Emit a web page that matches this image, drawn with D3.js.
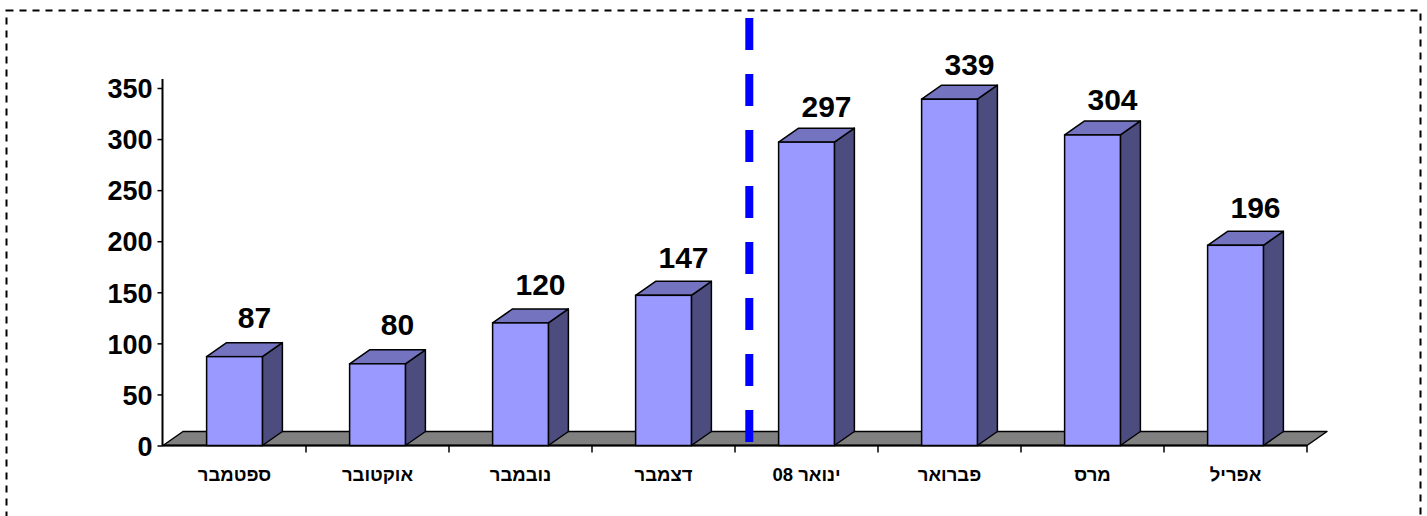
<!DOCTYPE html>
<html>
<head>
<meta charset="utf-8">
<script src="https://cdn.jsdelivr.net/npm/d3@7/dist/d3.min.js"></script>
<style>
  html, body { margin: 0; padding: 0; background: #fff; }
  svg { display: block; font-family: "Liberation Sans", Arial, sans-serif; }
</style>
</head>
<body>
<svg id="chart" width="1427" height="516"></svg>
<script>
const categories = ["ספטמבר", "אוקטובר", "נובמבר", "דצמבר", "ינואר 08", "פברואר", "מרס", "אפריל"];
const values = [87, 80, 120, 147, 297, 339, 304, 196];
const yTicks = [0, 50, 100, 150, 200, 250, 300, 350];
const dividerAfter = "דצמבר";

const svg = d3.select("#chart");
const left = 163, right = 1307, base = 445.5, topY = 88;
const dx = 20, dy = 14;

const x = d3.scaleBand().domain(categories).range([left, right]).paddingInner(0).paddingOuter(0);
const y = d3.scaleLinear().domain([0, 350]).range([base, topY]);
// value labels sit on a slightly flatter projection (3D perspective of the label plane)
const yLabel = d3.scaleLinear().domain([0, 350]).range([415, 64]);
const barW = x.step() * 0.39;
const off = (x.step() - barW) / 2;

// outer dashed frame
svg.append("rect")
  .attr("x", 6.5).attr("y", 10.5).attr("width", 1414).attr("height", 530)
  .attr("fill", "none").attr("stroke", "#000").attr("stroke-width", 2)
  .attr("stroke-dasharray", "7,6");

// floor
const y0 = y(0);
svg.append("polygon")
  .attr("points", [[left, y0], [left + dx, y0 - dy], [right + dx, y0 - dy], [right, y0]].map(p => p.join(",")).join(" "))
  .attr("fill", "#808080").attr("stroke", "#000").attr("stroke-width", 1.5).attr("stroke-linejoin", "round");

// y axis
const yAxis = d3.axisLeft(y).tickValues(yTicks).tickSize(5).tickPadding(5).tickFormat(d3.format("d"));
const gy = svg.append("g").attr("transform", `translate(${left - 0.5},0)`).call(yAxis);
gy.select(".domain").remove();
gy.append("line").attr("x1", 0).attr("x2", 0).attr("y1", y(350) - 9).attr("y2", y0)
  .attr("stroke", "#000").attr("stroke-width", 2);
gy.selectAll(".tick line").attr("stroke", "#000").attr("stroke-width", 1.5);
gy.selectAll(".tick text")
  .attr("fill", "#000").style("font-size", "27px").style("font-weight", "bold")
  .style("font-family", "'Liberation Sans', Arial, sans-serif").attr("dy", "0.36em");

// x axis
const xAxis = d3.axisBottom(x).tickSize(0).tickPadding(19);
const gx = svg.append("g").attr("transform", `translate(0,${y0})`).call(xAxis);
gx.select(".domain").remove();
gx.append("line").attr("x1", left - 1).attr("x2", right).attr("y1", 0).attr("y2", 0)
  .attr("stroke", "#000").attr("stroke-width", 2);
gx.selectAll(".bound").data(categories.map(c => x(c) + x.step()))
  .enter().append("line").attr("class", "bound")
  .attr("x1", d => d).attr("x2", d => d).attr("y1", 0).attr("y2", 7)
  .attr("stroke", "#000").attr("stroke-width", 1.5);
gx.selectAll(".tick text")
  .attr("fill", "#000").style("font-size", "18.5px").style("font-weight", "bold")
  .style("font-family", "'Liberation Sans', Arial, sans-serif")
  .attr("direction", "rtl").attr("text-anchor", "middle").attr("dy", "0.9em");

// bars
const bars = svg.append("g").selectAll("g.bar").data(categories.map((c, i) => ({c, v: values[i]})))
  .enter().append("g").attr("class", "bar");
const pts = a => a.map(p => p.join(",")).join(" ");
bars.each(function(d) {
  const g = d3.select(this);
  const x0 = x(d.c) + off, x1 = x0 + barW, yt = y(d.v);
  g.append("polygon").attr("points", pts([[x1, yt], [x1 + dx, yt - dy], [x1 + dx, y0 - dy], [x1, y0]]))
    .attr("fill", "#4c4c7f").attr("stroke", "#000").attr("stroke-width", 1.5).attr("stroke-linejoin", "round");
  g.append("polygon").attr("points", pts([[x0, yt], [x0 + dx, yt - dy], [x1 + dx, yt - dy], [x1, yt]]))
    .attr("fill", "#7373bf").attr("stroke", "#000").attr("stroke-width", 1.5).attr("stroke-linejoin", "round");
  g.append("rect").attr("x", x0).attr("y", yt).attr("width", barW).attr("height", y0 - yt)
    .attr("fill", "#9999ff").attr("stroke", "#000").attr("stroke-width", 1.5);
  g.append("text").attr("x", x0 + barW / 2 + 20).attr("y", yLabel(d.v))
    .attr("text-anchor", "middle").style("font-size", "30px").style("font-weight", "bold")
    .attr("fill", "#000").text(d.v);
});

// blue dashed divider
const xd = x(dividerAfter) + x.step() * 1.1;
svg.append("line").attr("x1", xd).attr("x2", xd).attr("y1", 18).attr("y2", y0 - 3)
  .attr("stroke", "#0000ff").attr("stroke-width", 8).attr("stroke-dasharray", "32,24");
</script>
</body>
</html>
